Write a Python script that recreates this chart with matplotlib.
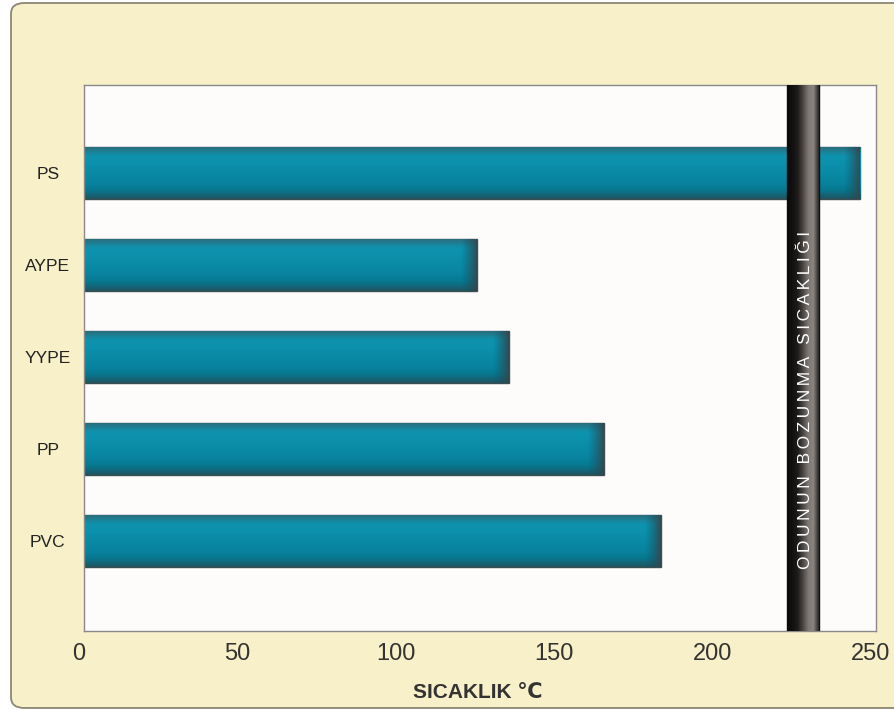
import numpy as np
import matplotlib
matplotlib.use("Agg")
import matplotlib.pyplot as plt
from matplotlib.patches import FancyBboxPatch
from matplotlib.colors import LinearSegmentedColormap
from matplotlib.transforms import ScaledTranslation
from matplotlib import font_manager

categories = ["PS", "AYPE", "YYPE", "PP", "PVC"]
values = [245, 124, 134, 164, 182]
band_start = 222
band_end = 232
band_label = "ODUNUN BOZUNMA SICAKLIĞI"
xticks = [0, 50, 100, 150, 200, 250]
xlabel = "SICAKLIK ℃"

names = {f.name for f in font_manager.fontManager.ttflist}
narrow = "Liberation Sans Narrow" if "Liberation Sans Narrow" in names else "Liberation Sans"

fig = plt.figure(figsize=(8.95, 7.11), dpi=100)
fig.patch.set_facecolor("white")

panel = FancyBboxPatch((11 / 895, 3 / 711), 900 / 895, 705 / 711,
                       boxstyle="round,pad=0,rounding_size=0.015",
                       transform=fig.transFigure, facecolor="#f7f0c8",
                       edgecolor="#8c8672", linewidth=1.3, zorder=-5)
fig.patches.append(panel)

ax = fig.add_axes([84 / 895, 1 - 631 / 711, 792 / 895, 546 / 711], zorder=2)
ax.set_facecolor("#fdfcfa")

ypos = np.arange(len(categories))[::-1]
bar_h = 0.565

# top -> bottom colours
teal = LinearSegmentedColormap.from_list(
    "teal", ["#2a6f80", "#0e93ae", "#0c90ab", "#0a8aa5", "#0984a0", "#077890", "#1f5561"])
grad = np.linspace(0, 1, 64).reshape(-1, 1)
shade = LinearSegmentedColormap.from_list(
    "sh", [(0.05, 0.35, 0.42, 0.0), (0.22, 0.27, 0.29, 0.9)])
hg = np.linspace(0, 1, 64).reshape(1, -1)

for y, v in zip(ypos, values):
    bars = ax.barh(y, v, height=bar_h, color="#0a8aa5", edgecolor="#3d4d50",
                   linewidth=1.0, zorder=2)
    patch = bars.patches[0]
    im = ax.imshow(grad, extent=(0, v, y - bar_h / 2, y + bar_h / 2), origin="upper",
                   cmap=teal, aspect="auto", zorder=2.1, interpolation="bilinear")
    im.set_clip_path(patch)
    w = min(5, v)
    im2 = ax.imshow(hg, extent=(v - w, v, y - bar_h / 2, y + bar_h / 2),
                    cmap=shade, aspect="auto", zorder=2.2, interpolation="bilinear")
    im2.set_clip_path(patch)

# band
band_cmap = LinearSegmentedColormap.from_list(
    "band", ["#0a0a0a", "#121111", "#1e1c1b", "#4a4643", "#7c7773", "#8a8580", "#2a2625"])
bg = np.linspace(0, 1, 64).reshape(1, -1)
ax.axvspan(band_start, band_end, color="#111", zorder=3)
ax.imshow(bg, extent=(band_start, band_end, -0.98, 4.96), cmap=band_cmap,
          aspect="auto", zorder=3.1, interpolation="bilinear")
spaced = "\u2009".join(band_label)
ax.text((band_start + band_end) / 2 + 0.6, 1.53, spaced, rotation=90,
        color="white", fontsize=12.5, ha="center", va="center", zorder=4,
        family=["Liberation Sans", "DejaVu Sans"])

ax.set_xlim(0, 250)
ax.set_ylim(-0.98, 4.96)

ax.set_yticks(ypos)
ax.set_yticklabels(categories, fontsize=12.5, color="#222", ha="center",
                   family=["Liberation Sans", "DejaVu Sans"])
ax.tick_params(axis="y", length=0, pad=26)
ax.set_xticks(xticks)
ax.set_xticklabels([str(t) for t in xticks], fontsize=17, color="#333",
                   family=[narrow, "DejaVu Sans"])
ax.tick_params(axis="x", length=0, pad=9)
shift = ScaledTranslation(-5 / 100, 0, fig.dpi_scale_trans)
for lbl in ax.get_xticklabels():
    lbl.set_transform(lbl.get_transform() + shift)

for s in ax.spines.values():
    s.set_color("#8a8a8a")
    s.set_linewidth(1.0)

fig.text(478 / 895, 1 - 693 / 711, xlabel, ha="center", va="center",
         fontsize=15, fontweight="bold", color="#333",
         family=[narrow, "DejaVu Sans"])

fig.savefig("out.png", dpi=100)
